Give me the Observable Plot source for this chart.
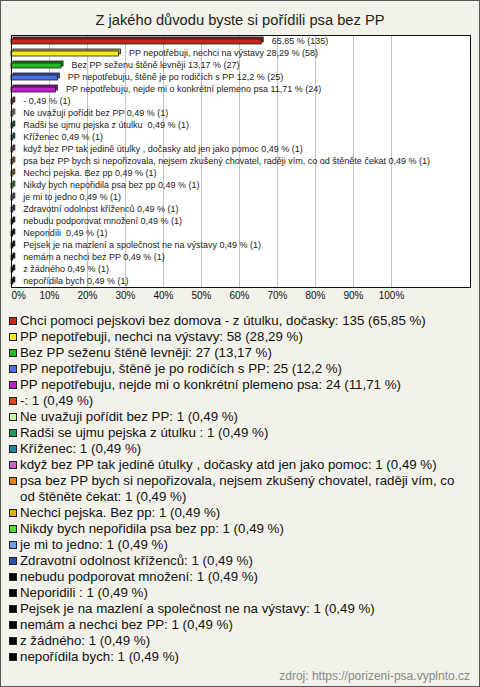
<!DOCTYPE html>
<html>
<head>
<meta charset="utf-8">
<script src="https://cdn.jsdelivr.net/npm/d3@7"></script>
<script src="https://cdn.jsdelivr.net/npm/@observablehq/plot@0.6"></script>
<style>
  html, body { margin: 0; padding: 0; background: #fff; }
  #wrap { position: relative; width: 480px; height: 687px; background: #f3f2ea; overflow: hidden;
          font-family: "Liberation Sans", Arial, sans-serif; }
  #border { position: absolute; left: 0; top: 0; width: 480px; height: 687px; box-sizing: border-box;
            border: 1px solid #555; pointer-events: none; }
  #title { position: absolute; left: 0; top: 10px; width: 480px; text-align: center; font-size: 14.7px;
           line-height: 20px; color: #222; }
  #chart { position: absolute; left: 0; top: 30px; }
  #legend { position: absolute; left: 0; top: 313px; width: 470px; }
  .item { position: relative; padding-left: 20px; font-size: 13.3px; line-height: 16px; color: #111; }
  .sw { position: absolute; left: 9px; top: 4px; width: 6px; height: 6px; border: 1px solid #222; }
  #source { position: absolute; right: 10px; top: 668px; font-size: 12px; line-height: 16px; color: #888; }
</style>
</head>
<body>
<div id="wrap">
  <div id="title">Z jakého důvodu byste si pořídili psa bez PP</div>
  <div id="chart"></div>
  <div id="legend"></div>
  <div id="source">zdroj: https://porizeni-psa.vyplnto.cz</div>
  <div id="border"></div>
</div>
<script>
const categories = [
  "Chci pomoci pejskovi bez domova - z útulku, dočasky",
  "PP nepotřebuji, nechci na výstavy",
  "Bez PP seženu štěně levněji",
  "PP nepotřebuju, štěně je po rodičích s PP",
  "PP nepotřebuju, nejde mi o konkrétní plemeno psa",
  "-",
  "Ne uvažuji pořídit bez PP",
  "Radši se ujmu pejska z útulku ",
  "Kříženec",
  "když bez PP tak jedině útulky , dočasky atd jen jako pomoc",
  "psa bez PP bych si nepořizovala, nejsem zkušený chovatel, raději vím, co od štěněte čekat",
  "Nechci pejska. Bez pp",
  "Nikdy bych nepořidila psa bez pp",
  "je mi to jedno",
  "Zdravotní odolnost kříženců",
  "nebudu podporovat množení",
  "Neporidili ",
  "Pejsek je na mazlení a společnost ne na výstavy",
  "nemám a nechci bez PP",
  "z žádného",
  "nepořídila bych"
];
const counts = [135, 58, 27, 25, 24, 1, 1, 1, 1, 1, 1, 1, 1, 1, 1, 1, 1, 1, 1, 1, 1];
const percents = [65.85, 28.29, 13.17, 12.2, 11.71, 0.49, 0.49, 0.49, 0.49, 0.49, 0.49, 0.49, 0.49, 0.49, 0.49, 0.49, 0.49, 0.49, 0.49, 0.49, 0.49];
const colors = ["#c8261a", "#f6e81e", "#1fbd1f", "#4a6fe6", "#c21fcc", "#e0441a", "#ccf59a", "#1e9a5e", "#1d8595",
                "#c864c8", "#f07c0a", "#e2b208", "#4ee22e", "#6c9ae8", "#2d52b4", "#000000", "#000000", "#000000",
                "#000000", "#000000", "#000000"];
const xTicks = [0, 10, 20, 30, 40, 50, 60, 70, 80, 90, 100];

const fmt = v => String(v).replace(".", ",");
const rows = categories.map((c, i) => ({
  key: String(i), name: c, n: counts[i], pct: percents[i], color: colors[i],
  dark: d3.color(colors[i]).darker(0.8).formatHex(),
  label: (i === 0 ? "" : c + " ") + fmt(percents[i]) + " % (" + counts[i] + ")"
}));

const chart = Plot.plot({
  width: 480,
  height: 276,
  marginLeft: 11,
  marginRight: 10,
  marginTop: 5,
  marginBottom: 19,
  style: { background: "transparent", fontFamily: "'Liberation Sans', Arial, sans-serif" },
  x: { domain: [0, 100], range: [11, 391], axis: null },
  y: { domain: rows.map(d => d.key), padding: 0, axis: null },
  color: { type: "identity" },
  marks: [
    Plot.frame({ fill: "#ffffff", stroke: "none" }),
    Plot.ruleX(xTicks.slice(1), { stroke: "#c4c4c4", strokeWidth: 1 }),
    Plot.barX(rows, { x1: 0, x2: "pct", y: "key", fill: "dark", stroke: "#1a1a1a", strokeWidth: 0.8,
                      insetTop: 4, insetBottom: 3, dx: 2, dy: -2 }),
    Plot.barX(rows, { x1: 0, x2: "pct", y: "key", fill: "color", stroke: "#1a1a1a", strokeWidth: 0.8,
                      insetTop: 4, insetBottom: 3 }),
    Plot.text(rows, { x: "pct", y: "key", text: "label", dx: 10, textAnchor: "start",
                      fontSize: 9, fill: "#222" }),
    Plot.text(xTicks.slice(0, 1), { x: d => d, text: d => d + "%", frameAnchor: "bottom", dy: 11,
                      textAnchor: "start", fontSize: 10, fill: "#111" }),
    Plot.text(xTicks.slice(1), { x: d => d, text: d => d + "%", frameAnchor: "bottom", dy: 11,
                      fontSize: 10, fill: "#111" }),
    Plot.frame({ stroke: "#111", strokeWidth: 1 })
  ]
});
document.getElementById("chart").appendChild(chart);

const legend = d3.select("#legend");
rows.forEach(d => {
  const item = legend.append("div").attr("class", "item");
  item.append("span").attr("class", "sw").style("background", d.color);
  item.append("span").text(d.name + ": " + d.n + " (" + fmt(d.pct) + " %)");
});
</script>
</body>
</html>
